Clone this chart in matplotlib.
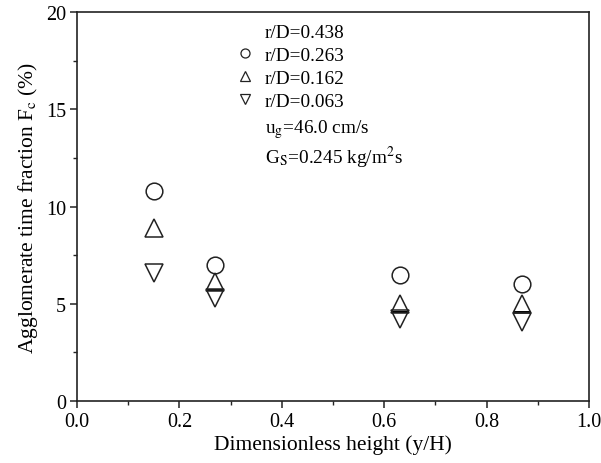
import numpy as np
import matplotlib
matplotlib.use("Agg")
import matplotlib.pyplot as plt
from matplotlib.lines import Line2D
from matplotlib.ticker import MultipleLocator

plt.rcParams['font.family'] = ['Liberation Serif', 'DejaVu Serif']
plt.rcParams['mathtext.fontset'] = 'stix'

heights = [0.15, 0.27, 0.63, 0.87]
labels = ['r/D=0.438', 'r/D=0.263', 'r/D=0.162', 'r/D=0.063']
fc_0438 = [np.nan, 5.7, 4.6, 4.6]
fc_0263 = [10.8, 7.0, 6.5, 6.0]
fc_0162 = [8.9, 6.1, 5.0, 5.0]
fc_0063 = [6.6, 5.3, 4.2, 4.05]

fig = plt.figure(figsize=(6.01, 4.64), dpi=100)
ax = fig.add_axes([77 / 601, 0.1336, 512 / 601, 0.8384])

ec = '#222222'
ax.plot(heights, fc_0438, ls='none', marker='_', ms=13.5, mew=1.4, color='black')
ax.plot(heights, fc_0263, ls='none', marker='o', ms=12, mfc='none', mec=ec, mew=1.1)
ax.plot(heights, fc_0162, ls='none', marker='^', ms=13, mfc='none', mec=ec, mew=1.1)
ax.plot(heights, fc_0063, ls='none', marker='v', ms=13, mfc='none', mec=ec, mew=1.1)

handles = [
    Line2D([], [], ls='none', marker='None'),
    Line2D([], [], ls='none', marker='o', ms=6.5, mfc='none', mec=ec, mew=0.9),
    Line2D([], [], ls='none', marker='^', ms=7, mfc='none', mec=ec, mew=0.9),
    Line2D([], [], ls='none', marker='v', ms=7, mfc='none', mec=ec, mew=0.9),
]
ax.legend(handles, labels, loc='upper left', bbox_to_anchor=(0.295, 0.991), frameon=False,
          fontsize=13.9, handlelength=1.0, handletextpad=0.5, labelspacing=0.285,
          borderaxespad=0.0, borderpad=0.4)

ax.text(0.367, 0.700, r'u$_\mathrm{g}$=46.0 cm/s', transform=ax.transAxes, fontsize=13.9,
        va='center', ha='left')
ax.text(0.367, 0.627, r'G$_\mathrm{S}$=0.245 kg/m$^2$s', transform=ax.transAxes, fontsize=13.9,
        va='center', ha='left')

ax.set_xlim(0, 1.0)
ax.set_ylim(0, 20)
ax.xaxis.set_minor_locator(MultipleLocator(0.1))
ax.yaxis.set_major_locator(MultipleLocator(5))
ax.yaxis.set_minor_locator(MultipleLocator(2.5))
ax.set_xticks(np.arange(0, 1.01, 0.2))
ax.set_xticklabels(['0.0', '0.2', '0.4', '0.6', '0.8', '1.0'])
ax.tick_params(which='both', direction='out', top=False, right=False, labelsize=14.5, color=ec)
ax.tick_params(which='major', length=5, width=1.1, pad=3)
ax.tick_params(which='minor', length=3, width=1.0)
for s in ax.spines.values():
    s.set_linewidth(1.2)
    s.set_color(ec)

ax.set_xlabel('Dimensionless height (y/H)', fontsize=15.5, labelpad=2.5)
ax.set_ylabel(r'Agglomerate time fraction F$_\mathrm{c}$ (%)', fontsize=15.5, labelpad=4)

fig.savefig('out.png', dpi=100)
